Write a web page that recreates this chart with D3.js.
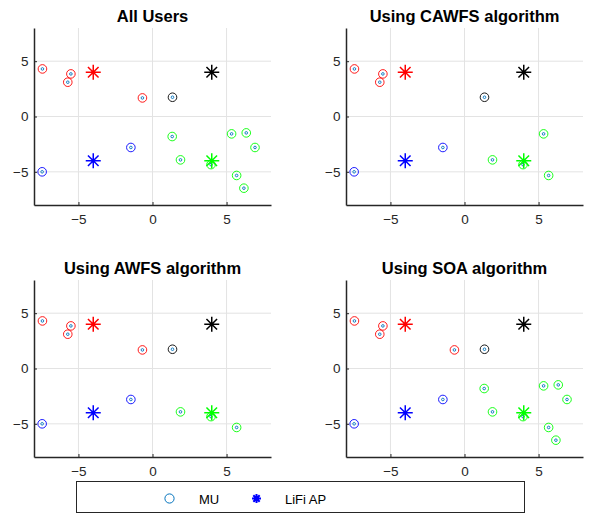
<!DOCTYPE html>
<html>
<head>
<meta charset="utf-8">
<script src="https://cdn.jsdelivr.net/npm/d3@7"></script>
<style>
  body { margin: 0; background: #fff; }
  svg { display: block; font-family: "Liberation Sans", Arial, Helvetica, sans-serif; }
</style>
</head>
<body>
<svg id="chart" width="589" height="514"></svg>
<script>
// Mobile user positions (x, y) and the access point each one is served by
const userX = [-7.43, -5.51, -5.72, -0.68, 1.35, -1.46, -7.45, 1.33, 1.89, 5.34, 6.33, 6.92, 5.68, 6.17, 3.95];
const userY = [4.30, 3.85, 3.10, 1.68, 1.74, -2.80, -5.00, -1.81, -3.92, -1.57, -1.48, -2.80, -5.33, -6.48, -4.35];
const userAP = [0, 0, 0, 0, 1, 2, 2, 3, 3, 3, 3, 3, 3, 3, 3];

// LiFi access points
const apX = [-4, 4, -4, 4];
const apY = [4, 4, -4, -4];
const apColors = ["#ff0000", "#000000", "#0000ff", "#00ff00"];

// Panels: title and the users shown in each
const panelTitles = ["All Users", "Using CAWFS algorithm", "Using AWFS algorithm", "Using SOA algorithm"];
const panelUsers = [
  [0, 1, 2, 3, 4, 5, 6, 7, 8, 9, 10, 11, 12, 13, 14],
  [0, 1, 2, 4, 5, 6, 8, 9, 12, 14],
  [0, 1, 2, 3, 4, 5, 6, 8, 12, 14],
  [0, 1, 2, 3, 4, 5, 6, 7, 8, 9, 10, 11, 12, 13, 14]
];

const axisTicks = [-5, 0, 5];
const legendLabels = ["MU", "LiFi AP"];

const svg = d3.select("#chart");
const muColor = "#0072bd";
const axisColor = "#262626";

// Eight-armed asterisk path centred at the origin
function starPath(r) {
  const d = r * Math.SQRT1_2;
  return `M${-r},0L${r},0M0,${-r}L0,${r}M${-d},${-d}L${d},${d}M${-d},${d}L${d},${-d}`;
}

const panelBoxes = [
  { x0: 34, x1: 271, y0: 28, y1: 205 },
  { x0: 346, x1: 583, y0: 28, y1: 205 },
  { x0: 34, x1: 271, y0: 280, y1: 457 },
  { x0: 346, x1: 583, y0: 280, y1: 457 }
];

panelTitles.forEach((title, p) => {
  const b = panelBoxes[p];
  const x = d3.scaleLinear().domain([-8, 8]).range([b.x0, b.x1]);
  const y = d3.scaleLinear().domain([-8, 8]).range([b.y1, b.y0]);
  const g = svg.append("g");

  // grid
  g.append("g").selectAll("line.gx").data(axisTicks).join("line")
    .attr("x1", d => x(d)).attr("x2", d => x(d))
    .attr("y1", b.y0).attr("y2", b.y1)
    .attr("stroke", "#e3e3e3").attr("stroke-width", 1);
  g.append("g").selectAll("line.gy").data(axisTicks).join("line")
    .attr("x1", b.x0).attr("x2", b.x1)
    .attr("y1", d => y(d)).attr("y2", d => y(d))
    .attr("stroke", "#e3e3e3").attr("stroke-width", 1);

  // axes
  const ax = g.append("g").attr("transform", `translate(0,${b.y1})`)
    .call(d3.axisBottom(x).tickValues(axisTicks).tickSizeInner(-3).tickSizeOuter(0).tickPadding(9));
  const ay = g.append("g").attr("transform", `translate(${b.x0},0)`)
    .call(d3.axisLeft(y).tickValues(axisTicks).tickSizeInner(-3).tickSizeOuter(0).tickPadding(5.5));
  [ax, ay].forEach(a => {
    a.select(".domain").attr("stroke", axisColor).attr("stroke-width", 1.5);
    a.selectAll(".tick line").attr("stroke", axisColor);
    a.selectAll(".tick text").attr("fill", axisColor)
      .style("font-size", "13.5px")
      .style("font-family", "'Liberation Sans', Arial, sans-serif");
  });

  // title
  g.append("text")
    .attr("x", (b.x0 + b.x1) / 2).attr("y", b.y0 - 6.5)
    .attr("text-anchor", "middle")
    .style("font-size", "16.5px").style("font-weight", "bold")
    .attr("fill", "#000")
    .text(title);

  // users: association ring plus small MU marker
  const users = panelUsers[p];
  g.append("g").selectAll("circle.ring").data(users).join("circle")
    .attr("cx", i => x(userX[i])).attr("cy", i => y(userY[i]))
    .attr("r", 4.3).attr("fill", "none")
    .attr("stroke", i => apColors[userAP[i]]).attr("stroke-width", 0.9);
  g.append("g").selectAll("circle.mu").data(users).join("circle")
    .attr("cx", i => x(userX[i])).attr("cy", i => y(userY[i]))
    .attr("r", 1.3).attr("fill", "#fff")
    .attr("stroke", muColor).attr("stroke-width", 0.9);

  // access points
  g.append("g").selectAll("path").data(apX).join("path")
    .attr("transform", (d, i) => `translate(${x(apX[i])},${y(apY[i])})`)
    .attr("d", starPath(7.5))
    .attr("fill", "none")
    .attr("stroke", (d, i) => apColors[i]).attr("stroke-width", 1.5);
});

// legend
const lg = svg.append("g");
lg.append("rect")
  .attr("x", 76.5).attr("y", 481.5).attr("width", 448).attr("height", 31)
  .attr("fill", "#fff").attr("stroke", axisColor).attr("stroke-width", 1);
lg.append("circle")
  .attr("cx", 169.5).attr("cy", 498.5).attr("r", 4.6)
  .attr("fill", "none").attr("stroke", muColor).attr("stroke-width", 1);
lg.append("text").attr("x", 199).attr("y", 503.5)
  .style("font-size", "13px").attr("fill", "#000").text(legendLabels[0]);
lg.append("path")
  .attr("transform", "translate(256.5,498.5)")
  .attr("d", starPath(4.5))
  .attr("fill", "none").attr("stroke", "#0000ff").attr("stroke-width", 2);
lg.append("text").attr("x", 285).attr("y", 503.5)
  .style("font-size", "13px").attr("fill", "#000").text(legendLabels[1]);
</script>
</body>
</html>
